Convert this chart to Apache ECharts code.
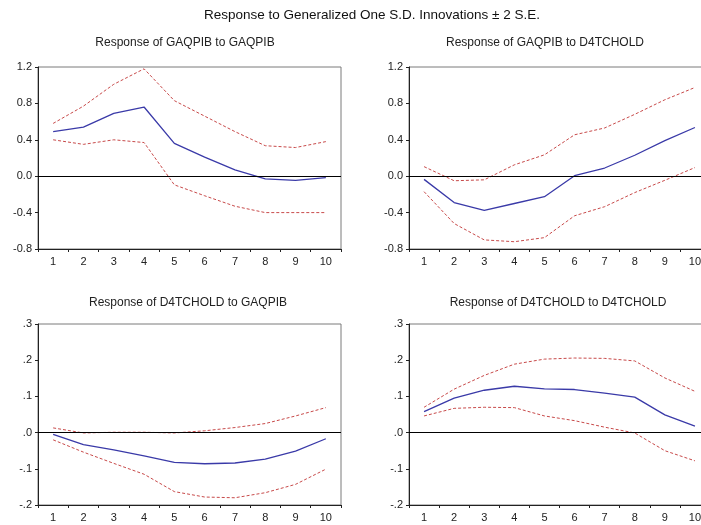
<!DOCTYPE html>
<html>
<head>
<meta charset="utf-8">
<script src="https://cdn.jsdelivr.net/npm/echarts@6/dist/echarts.min.js"></script>
<style>html,body{margin:0;padding:0;background:#fff;}#c{width:701px;height:525px;}</style>
</head>
<body>
<div id="c"></div>
<script>
var periods = ['1','2','3','4','5','6','7','8','9','10'];

var mainTitle = 'Response to Generalized One S.D. Innovations \u00b1 2 S.E.';
var panelTitles = ['Response of GAQPIB to GAQPIB','Response of GAQPIB to D4TCHOLD','Response of D4TCHOLD to GAQPIB','Response of D4TCHOLD to D4TCHOLD'];

// Panel 1: GAQPIB -> GAQPIB
var p1Resp  = [0.49, 0.54, 0.69, 0.76, 0.36, 0.21, 0.07, -0.03, -0.045, -0.015];
var p1Upper = [0.58, 0.77, 1.01, 1.18, 0.83, 0.66, 0.49, 0.335, 0.315, 0.38];
var p1Lower = [0.40, 0.35, 0.40, 0.37, -0.095, -0.215, -0.33, -0.40, -0.40, -0.40];

// Panel 2: GAQPIB -> D4TCHOLD
var p2Resp  = [-0.035, -0.29, -0.375, -0.30, -0.225, 0.005, 0.09, 0.23, 0.39, 0.535];
var p2Upper = [0.105, -0.05, -0.04, 0.125, 0.235, 0.455, 0.53, 0.68, 0.84, 0.975];
var p2Lower = [-0.17, -0.52, -0.70, -0.72, -0.675, -0.435, -0.335, -0.18, -0.045, 0.095];

// Panel 3: D4TCHOLD -> GAQPIB
var p3Resp  = [-0.005, -0.033, -0.048, -0.064, -0.082, -0.086, -0.084, -0.073, -0.051, -0.017];
var p3Upper = [0.013, -0.001, 0.001, 0.001, -0.001, 0.005, 0.014, 0.025, 0.046, 0.069];
var p3Lower = [-0.02, -0.054, -0.085, -0.115, -0.163, -0.178, -0.180, -0.166, -0.143, -0.101];

// Panel 4: D4TCHOLD -> D4TCHOLD
var p4Resp  = [0.058, 0.095, 0.117, 0.128, 0.121, 0.119, 0.109, 0.098, 0.049, 0.018];
var p4Upper = [0.07, 0.12, 0.158, 0.189, 0.203, 0.206, 0.205, 0.198, 0.151, 0.114];
var p4Lower = [0.046, 0.067, 0.07, 0.069, 0.046, 0.033, 0.015, -0.001, -0.05, -0.078];

var yTop = [-0.8, -0.4, 0.0, 0.4, 0.8, 1.2];
var yBottom = [-0.2, -0.1, 0.0, 0.1, 0.2, 0.3];

var FONT = '"Liberation Sans", Arial, sans-serif';
var chart = echarts.init(document.getElementById('c'), null, {renderer:'canvas'});

var grids = [
  {left:38, top:67, width:303, height:182},
  {left:409, top:67, width:301, height:182},
  {left:38, top:324, width:303, height:181},
  {left:409, top:324, width:301, height:181}
];
var ticksFor = [yTop, yTop, yBottom, yBottom];
var dataFor = [[p1Resp,p1Upper,p1Lower],[p2Resp,p2Upper,p2Lower],[p3Resp,p3Upper,p3Lower],[p4Resp,p4Upper,p4Lower]];

function fmtTop(v){ return (Math.round(v*10)/10).toFixed(1); }
function fmtBottom(v){ return (Math.round(v*10)/10).toFixed(1).replace(/^(-?)0\./,'$1.'); }

var gridOpts = [], xAxes = [], yAxes = [], series = [];
grids.forEach(function(g, i){
  gridOpts.push(Object.assign({show:true, borderColor:'#7a7a7a', borderWidth:1, backgroundColor:'#fff', containLabel:false, outerBoundsMode:'none'}, g));
  xAxes.push({
    type:'category', gridIndex:i, data:periods, boundaryGap:true,
    axisLine:{onZero:false, lineStyle:{color:'#222', width:1}},
    axisTick:{show:true, inside:false, length:3, lineStyle:{color:'#222'}},
    axisLabel:{color:'#222', fontSize:11, fontFamily:FONT, margin:7, interval:0},
    splitLine:{show:false}
  });
  var t = ticksFor[i];
  yAxes.push({
    type:'value', gridIndex:i, min:t[0], max:t[t.length-1], interval:t[1]-t[0],
    axisLine:{show:true, onZero:false, lineStyle:{color:'#222', width:1}},
    axisTick:{show:true, inside:false, length:3, lineStyle:{color:'#222'}},
    axisLabel:{color:'#222', fontSize:11, fontFamily:FONT, margin:6, formatter: i<2 ? fmtTop : fmtBottom},
    splitLine:{show:false}
  });
  var d = dataFor[i];
  series.push({
    type:'line', xAxisIndex:i, yAxisIndex:i, data:d[1], symbol:'none', silent:true,
    lineStyle:{color:'#c84a4a', width:1, type:[3,2]}, z:3
  });
  series.push({
    type:'line', xAxisIndex:i, yAxisIndex:i, data:d[2], symbol:'none', silent:true,
    lineStyle:{color:'#c84a4a', width:1, type:[3,2]}, z:3
  });
  series.push({
    type:'line', xAxisIndex:i, yAxisIndex:i, data:d[0], symbol:'none', silent:true,
    lineStyle:{color:'#3a3aa8', width:1.3}, z:4,
    markLine:{silent:true, symbol:['none','none'], label:{show:false},
      lineStyle:{color:'#000', width:1, type:'solid'}, data:[{yAxis:0}]}
  });
});

var titlePos = [[185,43],[545,43],[188,303],[558,303]];
var graphics = [{
  type:'text', x:372, y:15,
  style:{text:mainTitle, font:'13.5px ' + FONT, fill:'#111', align:'center', verticalAlign:'middle', textAlign:'center', textVerticalAlign:'middle'}
}];
panelTitles.forEach(function(tt, i){
  graphics.push({type:'text', x:titlePos[i][0], y:titlePos[i][1],
    style:{text:tt, font:'12px ' + FONT, fill:'#222', align:'center', verticalAlign:'middle', textAlign:'center', textVerticalAlign:'middle'}});
});

chart.setOption({
  animation:false,
  backgroundColor:'#fff',
  grid:gridOpts, xAxis:xAxes, yAxis:yAxes, series:series,
  graphic:graphics
});
</script>
</body>
</html>
